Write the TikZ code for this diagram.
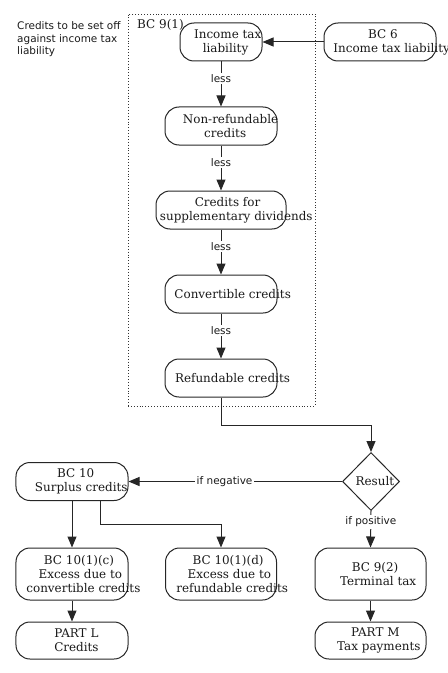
\documentclass[tikz,border=0pt]{standalone}
\usepackage{fontspec}
\setmainfont{DejaVu Serif}
\setsansfont{DejaVu Sans}
\usetikzlibrary{arrows.meta,shapes.geometric}
\newcommand\shl[1]{\setbox0\hbox{#1}\hspace*{0.2\wd0}\box0}
\begin{document}
\begin{tikzpicture}[x=1bp,y=-1bp,
  box/.style 2 args={draw=black!85,rounded corners=14bp,inner sep=0pt,line width=1bp,minimum width=#1,minimum height=#2},
  nodetext/.style={font=\fontsize{12}{14}\selectfont,align=center,inner sep=0pt,text=black!90},
  txt/.style={label={[nodetext]center:{#1}}},
  lbl/.style={font=\sffamily\fontsize{10.5}{12.5}\selectfont,fill=white,inner sep=1.5pt,text=black!90},
  arr/.style={draw=black!85,line width=1bp,-{Triangle[length=11bp,width=9bp]}}]
\useasboundingbox (0,0) rectangle (448,673);
% dotted group box
\node[draw=black!80,dotted,line width=0.9bp,minimum width=187bp,minimum height=392bp,inner sep=0pt] (grp) at (221.5,210) {};
\node[anchor=base west,font=\fontsize{12}{14}\selectfont,inner sep=0pt,text=black!90] (grplbl) at (137,29) {BC 9(1)};
\node[anchor=north west,align=left,inner sep=0pt,text=black!90,font=\sffamily\fontsize{10.5}{12.5}\selectfont] (note) at (17,21.5) {Credits to be set off\\against income tax\\liability};
% nodes
\node[box={82bp}{38bp},txt={\shl{Income tax}\\\shl{liability}}] (it) at (221,42) {};
\node[box={112bp}{38bp},txt={\shl{BC 6}\\\shl{Income tax liability}}] (bc6) at (380,42) {};
\node[box={112bp}{38bp},txt={\shl{Non-refundable}\\\shl{credits}}] (nr) at (221,126) {};
\node[box={130bp}{38bp},txt={\shl{Credits for}\\\shl{supplementary dividends}}] (sd) at (221,210) {};
\node[box={112bp}{38bp},txt={\shl{Convertible credits}}] (cv) at (221,294) {};
\node[box={112bp}{38bp},txt={\shl{Refundable credits}}] (rf) at (221,378) {};
\node[draw=black!85,diamond,line width=1bp,minimum width=57bp,minimum height=58bp,inner sep=0pt,txt={\shl{Result}}] (res) at (371,481.5) {};
\node[box={112bp}{38bp},txt={\shl{BC 10}\\\shl{Surplus credits}}] (bc10) at (72,481.5) {};
\node[box={112bp}{52bp},txt={\shl{BC 10(1)(c)}\\\shl{Excess due to}\\\shl{convertible credits}}] (c) at (72,574) {};
\node[box={111bp}{52bp},txt={\shl{BC 10(1)(d)}\\\shl{Excess due to}\\\shl{refundable credits}}] (d) at (221,574) {};
\node[box={111bp}{52bp},txt={\shl{BC 9(2)}\\\shl{Terminal tax}}] (bc92) at (370.5,574) {};
\node[box={112bp}{37bp},txt={\shl{PART L}\\\shl{Credits}}] (pl) at (72,640.5) {};
\node[box={111bp}{37bp},txt={\shl{PART M}\\\shl{Tax payments}}] (pm) at (370.5,640.5) {};
% connectors
\draw[arr] (bc6.west) -- (it.east);
\draw[arr] (it.south) -- node[lbl,pos=0.37] (l1) {less} (nr.north);
\draw[arr] (nr.south) -- node[lbl,pos=0.37] (l2) {less} (sd.north);
\draw[arr] (sd.south) -- node[lbl,pos=0.37] (l3) {less} (cv.north);
\draw[arr] (cv.south) -- node[lbl,pos=0.37] (l4) {less} (rf.north);
\coordinate (bend1) at (221,425);
\draw[arr] (rf.south) -- (bend1) -| (res.north);
\draw[arr] (res.west) -- node[lbl,pos=0.55] (l5) {if negative} (bc10.east);
\draw[arr] (res.south) -- node[lbl,pos=0.3] (l6) {if positive} (bc92.north);
\draw[arr] (bc10.south) -- (c.north);
\coordinate (sp) at (100,500);
\coordinate (bend2) at (100,524);
\draw[arr] (sp) -- (bend2) -| (d.north);
\draw[arr] (c.south) -- (pl.north);
\draw[arr] (bc92.south) -- (pm.north);
\end{tikzpicture}
\end{document}
